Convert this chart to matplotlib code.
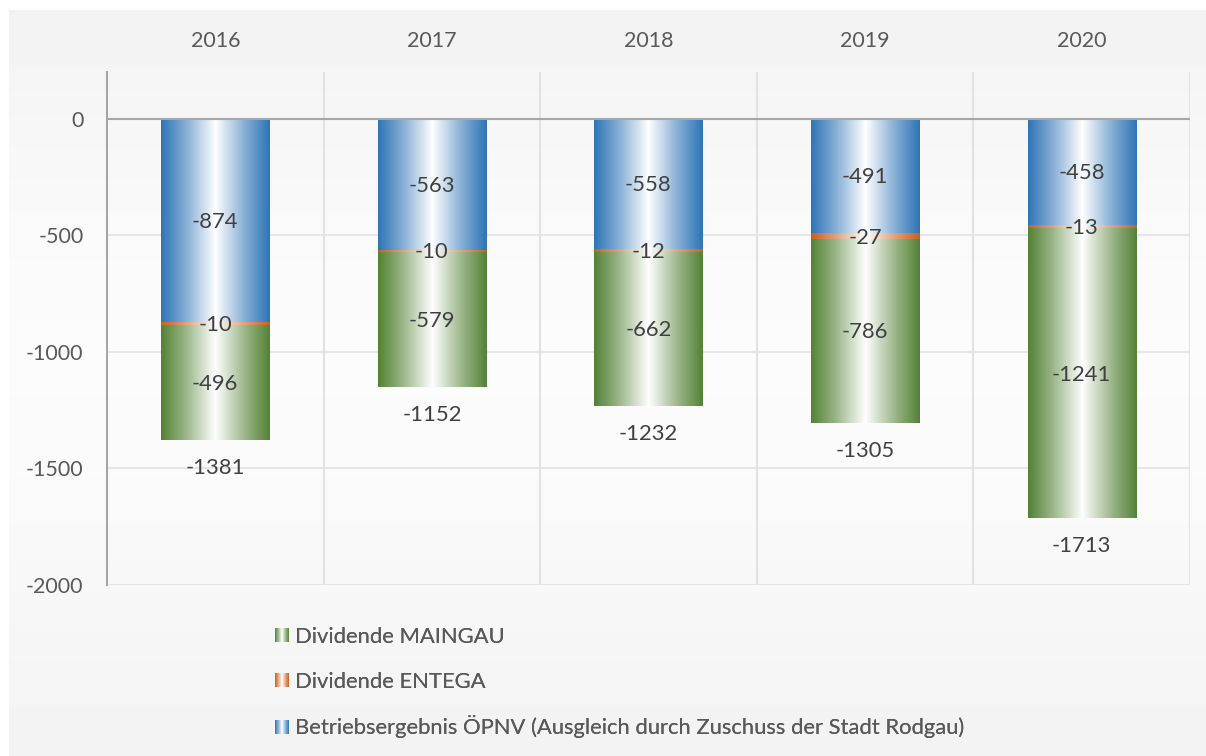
import matplotlib
matplotlib.use("Agg")
import matplotlib.pyplot as plt
import numpy as np
from matplotlib.colors import LinearSegmentedColormap, to_rgb
from matplotlib.legend_handler import HandlerBase
from matplotlib.patches import Rectangle, Patch

# ---------------- data ----------------
years = ["2016", "2017", "2018", "2019", "2020"]
opnv = [-874, -563, -558, -491, -458]
entega = [-10, -10, -12, -27, -13]
maingau = [-496, -579, -662, -786, -1241]
totals = [-1381, -1152, -1232, -1305, -1713]
yticks = [0, -500, -1000, -1500, -2000]
series_names = ["Dividende MAINGAU", "Dividende ENTEGA",
                "Betriebsergebnis ÖPNV (Ausgleich durch Zuschuss der Stadt Rodgau)"]

# ---------------- style ----------------
plt.rcParams['font.family'] = ['Lato', 'DejaVu Sans']
C_BLUE = "#2e75b6"
C_ORANGE = "#cc5f1c"
C_GREEN = "#548235"
TICK_C = "#595959"
LAB_C = "#404040"
FS = 15.5
DFS = 15.8
LFS = 15.8


def mix(c, t):
    r = np.array(to_rgb(c))
    return tuple(r + (1 - r) * t)


def grad_cmap(c):
    stops = [(0.0, to_rgb(c)), (0.22, mix(c, 0.4)), (0.40, mix(c, 0.78)),
             (0.5, (1, 1, 1)), (0.60, mix(c, 0.78)), (0.78, mix(c, 0.4)),
             (1.0, to_rgb(c))]
    return LinearSegmentedColormap.from_list("g", stops)


W, H = 1206, 756
fig = plt.figure(figsize=(W / 100, H / 100), dpi=100)
fig.patch.set_facecolor("white")

# chart-area background gradient
bg = fig.add_axes([9 / W, 0, 1 - 9 / W, (H - 10) / H], zorder=-10)
bg.axis("off")
gv = np.array([0.949, 0.965, 0.978, 0.985, 0.984, 0.975, 0.962, 0.953])
gy = np.interp(np.linspace(0, 1, 200), np.linspace(0, 1, len(gv)), gv)
bg.imshow(np.repeat(gy[:, None], 2, axis=1), cmap="gray", vmin=0, vmax=1,
          aspect="auto", extent=[0, 1, 0, 1], interpolation="bilinear")
bg.set_xlim(0, 1)
bg.set_ylim(0, 1)

L, R, T, B = 107, 1190, 72, 585
ax = fig.add_axes([L / W, 1 - B / H, (R - L) / W, (B - T) / H])
ax.set_facecolor("none")

x = np.arange(len(years))
bw = 0.5
opnv_a = np.array(opnv)
ent_a = np.array(entega)
mg_a = np.array(maingau)

b_blue = ax.bar(x, opnv_a, bw, bottom=0, color=C_BLUE, zorder=3, linewidth=0)
b_or = ax.bar(x, ent_a, bw, bottom=opnv_a, color=C_ORANGE, zorder=3, linewidth=0)
b_gr = ax.bar(x, mg_a, bw, bottom=opnv_a + ent_a, color=C_GREEN, zorder=3, linewidth=0)

grad = np.linspace(0, 1, 256)[None, :]
for cont, col in [(b_blue, C_BLUE), (b_or, C_ORANGE), (b_gr, C_GREEN)]:
    cm = grad_cmap(col)
    for p in cont.patches:
        bb = p.get_bbox()
        im = ax.imshow(grad, cmap=cm, aspect="auto", interpolation="bilinear",
                       extent=[bb.x0, bb.x1, min(bb.y0, bb.y1), max(bb.y0, bb.y1)],
                       zorder=4)
        im.set_clip_path(p)

# segment labels
for cont, vals, bots in [(b_blue, opnv_a, np.zeros(5)), (b_or, ent_a, opnv_a),
                         (b_gr, mg_a, opnv_a + ent_a)]:
    for xi, v, b0 in zip(x, vals, bots):
        ax.annotate(f"{v}", (xi, b0 + v / 2), xytext=(0, -1),
                    textcoords="offset points", ha="center", va="center",
                    fontsize=DFS, color=LAB_C, zorder=6)

# total labels
for xi, t in zip(x, totals):
    ax.annotate(f"{t}", (xi, t), xytext=(0, -20), textcoords="offset points",
                ha="center", va="center", fontsize=DFS, color=LAB_C, zorder=6)

ax.set_xlim(-0.5, len(years) - 0.5)
ax.set_ylim(-2000, 200)

# axes / grid
for s in ax.spines.values():
    s.set_visible(False)
ax.spines["left"].set_visible(True)
ax.spines["left"].set_color("#a6a6a6")
ax.spines["left"].set_linewidth(1.5)

for yv in yticks[1:]:
    ax.axhline(yv, color="#e6e6e6", lw=1.5, zorder=1)
ax.axhline(0, color="#a6a6a6", lw=1.5, zorder=5)
for xv in np.arange(0.5, len(years), 1.0):
    ax.axvline(xv, color="#e2e2e2", lw=1.5, zorder=1)

ax.set_yticks(yticks)
ax.set_yticklabels([str(v) for v in yticks])
ax.tick_params(axis="y", length=0, pad=17, labelsize=FS, labelcolor=TICK_C)
ax.xaxis.tick_top()
ax.set_xticks(x)
ax.set_xticklabels(years)
ax.tick_params(axis="x", length=0, pad=15, labelsize=FS, labelcolor=TICK_C)


# legend with gradient markers
class GradHandler(HandlerBase):
    def __init__(self, color):
        super().__init__()
        self.color = color

    def create_artists(self, legend, orig_handle, xdescent, ydescent, width,
                       height, fontsize, trans):
        cm = grad_cmap(self.color)
        n = 14
        arts = []
        for i in range(n):
            arts.append(Rectangle((-xdescent + width * i / n, -ydescent),
                                  width / n + 0.05, height,
                                  facecolor=cm((i + 0.5) / n), edgecolor="none",
                                  transform=trans))
        return arts


leg_colors = [C_GREEN, C_ORANGE, C_BLUE]
leg_rows = [637, 682, 727]
for name, col, yr in zip(series_names, leg_colors, leg_rows):
    h = Patch(color=col)
    lg = fig.legend([h], [name], handler_map={h: GradHandler(col)},
                    loc="center left", bbox_to_anchor=(275 / W, 1 - yr / H),
                    frameon=False, fontsize=LFS, labelcolor=TICK_C,
                    handlelength=0.62, handleheight=0.6, handletextpad=0.3,
                    borderpad=0, borderaxespad=0)
    fig.add_artist(lg)

fig.savefig("out.png", dpi=100, facecolor=fig.get_facecolor())
